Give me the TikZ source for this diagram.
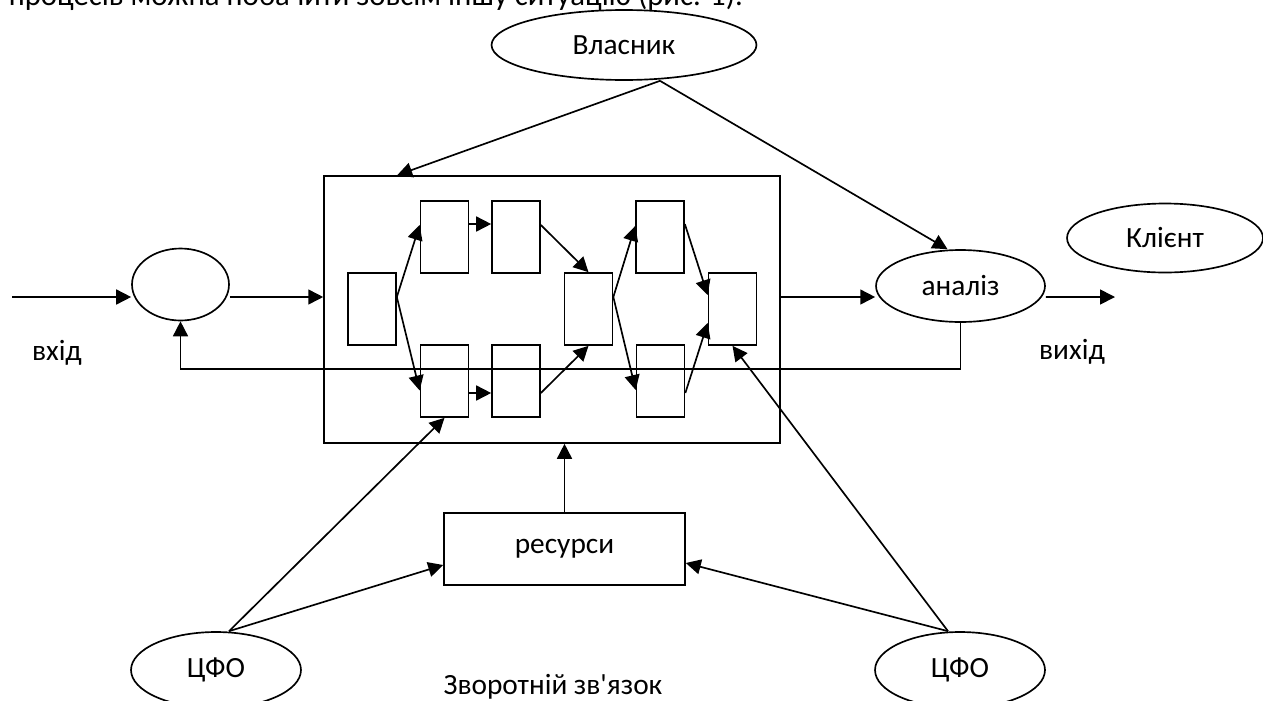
\documentclass[tikz,border=0pt]{standalone}
\usepackage{fontspec}
\setmainfont{Carlito}
\usepackage{tikz}
\usetikzlibrary{positioning,arrows.meta,shapes.geometric}

\begin{document}
\begin{tikzpicture}[
  x=0.02cm, y=-0.02cm,
  font=\fontsize{16.7}{20}\selectfont,
  line width=0.95pt,
  oval/.style={
    draw, ellipse, inner sep=0pt,
    minimum width=#1
  },
  blk/.style={
    draw, inner sep=0pt,
    minimum width=0.96cm, minimum height=1.44cm
  },
  arrow/.style={-{Triangle[length=8.5pt,width=8.5pt]}}
]
\useasboundingbox (0,0) rectangle (1263,700);

% --- Рядок тексту над рисунком ---
\node[anchor=base west, inner sep=0pt, font=\fontsize{17.5}{21}\selectfont] (txt) at (8,5)
  {процесів можна побачити зовсім іншу ситуацію (рис. 1).};

% --- Еліпси ---
\node[oval=5.3cm, minimum height=1.4cm] (vlasnyk) at (624,45) {Власник};
\node[oval=3.92cm, minimum height=1.38cm] (klient) at (1165,238) {Клієнт};
\node[oval=1.94cm, minimum height=1.44cm] (vkhid) at (180.5,284.5) {};
\node[oval=3.38cm, minimum height=1.44cm] (analiz) at (960.5,286) {аналіз};
\node[oval=3.4cm, minimum height=1.52cm] (cfoL) at (216,670) {ЦФО};
\node[oval=3.4cm, minimum height=1.52cm] (cfoR) at (960,670) {ЦФО};

% --- Процес ---
\node[draw, minimum width=9.12cm, minimum height=5.34cm, inner sep=0pt] (process) at (552,309.5) {};
\node[blk] (a)  at (372,309) {};
\node[blk] (t1) at (444.5,237) {};
\node[blk] (t2) at (516,237) {};
\node[blk] (b)  at (588.5,309) {};
\node[blk] (t3) at (660,237) {};
\node[blk] (c)  at (732.5,309) {};
\node[blk] (d1) at (444.5,381) {};
\node[blk] (d2) at (516,381) {};
\node[blk] (d3) at (660.5,381) {};

\node[draw, minimum width=4.82cm, minimum height=1.44cm, inner sep=0pt] (resursy) at (564.5,549) {ресурси};

% --- Підписи ---
\node (lvkhid) at (57,353) {вхід};
\node (lvykhid) at (1072,352) {вихід};
\node (lzz) at (553,687) {Зворотній зв\textquotesingle язок};

\coordinate (in) at (12,297);
\coordinate (out) at (1115,297);

% --- Стрілки всередині процесу ---
\draw[arrow] ([yshift=0.24cm]a.east) -- ([yshift=0.24cm]t1.west);
\draw[arrow] ([yshift=0.24cm]a.east) -- ([yshift=-0.19cm]d1.west);
\draw[arrow] ([yshift=0.26cm]t1.east) -- ([yshift=0.26cm]t2.west);
\draw[arrow] ([yshift=-0.24cm]d1.east) -- ([yshift=-0.24cm]d2.west);
\draw[arrow] ([yshift=0.24cm]t2.east) -- (b.north);
\draw[arrow] ([yshift=-0.24cm]d2.east) -- (b.south);
\draw[arrow] ([yshift=0.24cm]b.east) -- ([yshift=0.22cm]t3.west);
\draw[arrow] ([yshift=0.24cm]b.east) -- ([yshift=-0.18cm]d3.west);
\draw[arrow] ([yshift=0.26cm]t3.east) -- ([yshift=0.28cm]c.west);
\draw[arrow] ([yshift=-0.24cm]d3.east) -- ([yshift=-0.28cm]c.west);

% --- Зовнішні зв'язки ---
\draw[arrow] (in) -- (in -| vkhid.west);
\draw[arrow] ([yshift=-0.25cm]vkhid.east) -- ([yshift=-0.25cm]vkhid.east -| process.west);
\draw[arrow] ([yshift=0.25cm]process.east) -- ([yshift=0.25cm]process.east -| analiz.west);
\draw[arrow] ([yshift=0.25cm]process.east -| analiz.east) -- (out);
\draw[arrow] (analiz.south) -- ++(0,46) -| (vkhid.south);

\draw[arrow] ([xshift=0.72cm]vlasnyk.south) -- ([xshift=1.48cm]process.north west);
\draw[arrow] ([xshift=0.72cm]vlasnyk.south) -- ([xshift=-0.26cm]analiz.north);

\draw[arrow] (resursy.north) -- (resursy.north |- process.south);

\draw[arrow] ([xshift=0.26cm]cfoL.north) -- (d1.south);
\draw[arrow] ([xshift=0.26cm]cfoL.north) -- ([yshift=-0.32cm]resursy.west);
\draw[arrow] ([xshift=-0.24cm]cfoR.north) -- (c.south);
\draw[arrow] ([xshift=-0.24cm]cfoR.north) -- ([yshift=-0.28cm]resursy.east);

\end{tikzpicture}
\end{document}
